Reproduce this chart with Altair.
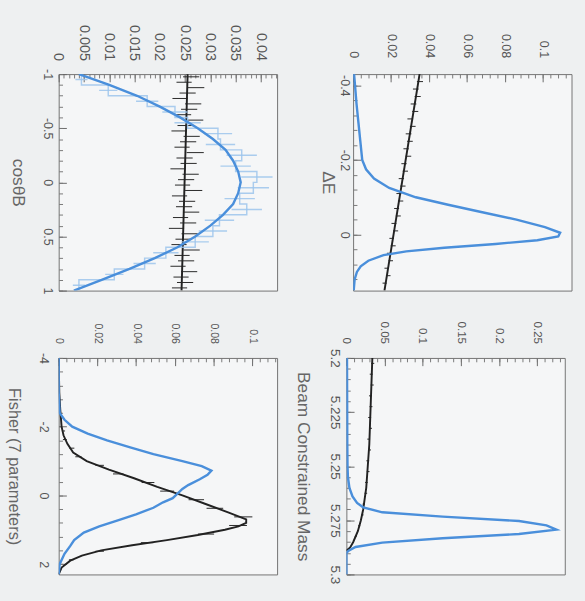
import altair as alt
import pandas as pd

FONT = "Liberation Sans"
BLUE = "#4a8fdb"
LBLUE = "#9cc4ec"
BLACK = "#222222"
TXT = "#555555"
W, H = 227, 225

# ---------------- Panel A : cos(theta_B) ----------------
A_fit_cos = [-1.0, -0.9, -0.8, -0.7, -0.6, -0.5, -0.4, -0.3, -0.2, -0.1, 0.0,
             0.1, 0.2, 0.3, 0.4, 0.5, 0.6, 0.7, 0.8, 0.9, 1.0]
A_sig_fit = [0.004, 0.010, 0.0155, 0.020, 0.024, 0.0275, 0.0305, 0.033, 0.0345, 0.0355, 0.036,
             0.0355, 0.0345, 0.0325, 0.030, 0.027, 0.0235, 0.019, 0.014, 0.0085, 0.003]
A_bkg_fit_cos = [-1.0, 1.0]
A_bkg_fit = [0.0255, 0.0243]
A_sig_edges = [-1.0, -0.9, -0.8, -0.7, -0.6, -0.5, -0.4, -0.3, -0.2, -0.1, 0.0,
               0.1, 0.2, 0.3, 0.4, 0.5, 0.6, 0.7, 0.8, 0.9, 1.0]
A_sig_hist = [0.0045, 0.0098, 0.0175, 0.0230, 0.0255, 0.0315, 0.0320, 0.0362, 0.0350, 0.0392,
              0.0385, 0.0358, 0.0372, 0.0318, 0.0305, 0.0270, 0.0212, 0.0170, 0.0110, 0.0040]
A_sig_err = [0.0012, 0.0018, 0.0022, 0.0025, 0.0026, 0.0028, 0.0029, 0.0030, 0.0030, 0.0031,
             0.0031, 0.0030, 0.0030, 0.0029, 0.0028, 0.0027, 0.0025, 0.0022, 0.0018, 0.0012]
A_bkg_bins = [-0.975, -0.925, -0.875, -0.825, -0.775, -0.725, -0.675, -0.625, -0.575, -0.525,
              -0.475, -0.425, -0.375, -0.325, -0.275, -0.225, -0.175, -0.125, -0.075, -0.025,
              0.025, 0.075, 0.125, 0.175, 0.225, 0.275, 0.325, 0.375, 0.425, 0.475,
              0.525, 0.575, 0.625, 0.675, 0.725, 0.775, 0.825, 0.875, 0.925, 0.975]
A_bkg_data = [0.0262, 0.0248, 0.0271, 0.0255, 0.0240, 0.0266, 0.0258, 0.0247, 0.0269, 0.0251,
              0.0238, 0.0263, 0.0256, 0.0244, 0.0270, 0.0249, 0.0257, 0.0236, 0.0261, 0.0252,
              0.0245, 0.0267, 0.0239, 0.0254, 0.0248, 0.0262, 0.0241, 0.0256, 0.0233, 0.0259,
              0.0247, 0.0238, 0.0263, 0.0244, 0.0252, 0.0236, 0.0258, 0.0242, 0.0250, 0.0239]
A_bkg_err = [0.0016, 0.0015, 0.0017, 0.0016, 0.0015, 0.0016, 0.0016, 0.0015, 0.0017, 0.0016,
             0.0015, 0.0016, 0.0016, 0.0015, 0.0017, 0.0016, 0.0016, 0.0015, 0.0016, 0.0016,
             0.0015, 0.0017, 0.0015, 0.0016, 0.0016, 0.0016, 0.0015, 0.0016, 0.0015, 0.0016,
             0.0016, 0.0015, 0.0016, 0.0015, 0.0016, 0.0015, 0.0016, 0.0015, 0.0016, 0.0015]

# ---------------- Panel B : Delta E ----------------
B_fit_de = [-0.43, -0.40, -0.35, -0.30, -0.25, -0.20, -0.175, -0.15, -0.125, -0.10, -0.08,
            -0.06, -0.04, -0.02, -0.005, 0.005, 0.015, 0.025, 0.035, 0.045, 0.055, 0.07,
            0.085, 0.10, 0.12, 0.15]
B_sig_fit = [0.0005, 0.001, 0.0018, 0.0028, 0.0038, 0.0048, 0.0068, 0.011, 0.019, 0.033, 0.050,
             0.068, 0.086, 0.101, 0.109, 0.108, 0.097, 0.075, 0.048, 0.028, 0.016, 0.008,
             0.004, 0.002, 0.0008, 0.0003]
B_bkg_fit_de = [-0.43, 0.15]
B_bkg_fit = [0.035, 0.0165]
B_bkg_bins = [-0.41, -0.39, -0.37, -0.35, -0.33, -0.31, -0.29, -0.27, -0.25, -0.23,
              -0.21, -0.19, -0.17, -0.15, -0.13, -0.11, -0.09, -0.07, -0.05, -0.03,
              -0.01, 0.01, 0.03, 0.05, 0.07, 0.09, 0.11, 0.13]
B_bkg_data = [0.0352, 0.0330, 0.0340, 0.0318, 0.0327, 0.0301, 0.0314, 0.0292, 0.0299, 0.0279,
              0.0291, 0.0268, 0.0275, 0.0254, 0.0262, 0.0241, 0.0250, 0.0229, 0.0238, 0.0215,
              0.0224, 0.0203, 0.0211, 0.0190, 0.0198, 0.0177, 0.0185, 0.0166]
B_bkg_err = [0.0016, 0.0015, 0.0016, 0.0015, 0.0016, 0.0015, 0.0015, 0.0015, 0.0015, 0.0014,
             0.0015, 0.0014, 0.0014, 0.0014, 0.0014, 0.0013, 0.0014, 0.0013, 0.0013, 0.0013,
             0.0013, 0.0012, 0.0013, 0.0012, 0.0012, 0.0012, 0.0012, 0.0011]

# ---------------- Panel C : Fisher ----------------
C_bkg_fit_f = [-4.0, -3.0, -2.5, -2.0, -1.75, -1.5, -1.25, -1.0, -0.75, -0.5, -0.25, 0.0, 0.25,
               0.5, 0.7, 0.8, 0.9, 1.0, 1.15, 1.3, 1.45, 1.6, 1.75, 1.9, 2.1, 2.3]
C_bkg_fit = [0.0, 0.0003, 0.0008, 0.0015, 0.0025, 0.0045, 0.0075, 0.0145, 0.026, 0.039, 0.051,
             0.064, 0.076, 0.088, 0.097, 0.097, 0.093, 0.086, 0.072, 0.056, 0.038, 0.022, 0.012,
             0.006, 0.0015, 0.0]
C_sig_fit_f = [-4.0, -3.0, -2.4, -2.2, -2.0, -1.8, -1.6, -1.4, -1.2, -1.0, -0.85, -0.72, -0.6,
               -0.47, -0.3, -0.19, 0.08, 0.2, 0.36, 0.55, 0.72, 0.9, 1.08, 1.3, 1.47, 1.7, 2.0, 2.3]
C_sig_fit = [0.0, 0.0, 0.0005, 0.003, 0.007, 0.015, 0.025, 0.037, 0.049, 0.064, 0.074, 0.079, 0.077,
             0.073, 0.067, 0.064, 0.059, 0.054, 0.049, 0.040, 0.031, 0.021, 0.013, 0.008, 0.006,
             0.003, 0.0005, 0.0]
C_bkg_bins = [-1.875, -1.625, -1.375, -1.125, -0.875, -0.625, -0.375, -0.125, 0.125, 0.375,
              0.625, 0.875, 1.125, 1.375, 1.625, 1.875]
C_bkg_data = [0.0025, 0.0032, 0.0068, 0.0102, 0.0212, 0.0308, 0.0462, 0.0561, 0.0712, 0.0808,
              0.0955, 0.0928, 0.0762, 0.0458, 0.0212, 0.0065]
C_bkg_err = [0.0008, 0.0010, 0.0013, 0.0016, 0.0022, 0.0027, 0.0033, 0.0036, 0.0040, 0.0043,
             0.0047, 0.0046, 0.0042, 0.0033, 0.0022, 0.0012]

# ---------------- Panel D : Beam constrained mass ----------------
D_bkg_fit_m = [5.200, 5.210, 5.220, 5.230, 5.240, 5.250, 5.260, 5.265, 5.270, 5.275, 5.280,
               5.285, 5.2875, 5.289]
D_bkg_fit = [0.034, 0.033, 0.032, 0.031, 0.030, 0.028, 0.026, 0.024, 0.022, 0.019, 0.015,
             0.009, 0.005, 0.0]
D_sig_fit_m = [5.200, 5.220, 5.240, 5.250, 5.255, 5.260, 5.264, 5.267, 5.269, 5.2713, 5.2733,
               5.2753, 5.2773, 5.2793, 5.2813, 5.2833, 5.2853, 5.2873, 5.289, 5.290, 5.300]
D_sig_fit = [0.0008, 0.001, 0.0012, 0.0015, 0.002, 0.004, 0.008, 0.014, 0.022, 0.047, 0.126,
             0.226, 0.262, 0.275, 0.226, 0.126, 0.047, 0.012, 0.003, 0.0, 0.0]
D_bkg_bins = [5.2025, 5.2075, 5.2125, 5.2175, 5.2225, 5.2275, 5.2325, 5.2375, 5.2425, 5.2475,
              5.2525, 5.2575, 5.2625, 5.2675, 5.2725, 5.2775, 5.2825, 5.2875]
D_bkg_data = [0.0345, 0.0325, 0.0338, 0.0315, 0.0322, 0.0305, 0.0316, 0.0292, 0.0303, 0.0280,
              0.0285, 0.0262, 0.0255, 0.0228, 0.0210, 0.0168, 0.0122, 0.0050]
D_bkg_err = [0.0020, 0.0019, 0.0020, 0.0019, 0.0019, 0.0019, 0.0019, 0.0018, 0.0019, 0.0018,
             0.0018, 0.0017, 0.0017, 0.0016, 0.0015, 0.0014, 0.0012, 0.0008]

LABEL_EXPR = "'' + datum.value"


def xs(dom):
    return alt.Scale(domain=dom, nice=False, zero=False)


def ys(dom):
    return alt.Scale(domain=dom, nice=False, zero=False, reverse=True)


def curve(v, p, dx, dy, color, width, opacity=1.0):
    df = pd.DataFrame({"v": v, "p": p, "o": list(range(len(v)))})
    return alt.Chart(df).mark_line(color=color, strokeWidth=width, clip=True,
                                   strokeOpacity=opacity).encode(
        x=alt.X("p:Q", scale=xs(dx), axis=None),
        y=alt.Y("v:Q", scale=ys(dy), axis=None),
        order=alt.Order("o:Q"),
    )


def stephist(edges, vals, dx, dy, color, width, opacity=1.0):
    vv, pp = [], []
    for i, val in enumerate(vals):
        vv += [edges[i], edges[i + 1]]
        pp += [val, val]
    return curve(vv, pp, dx, dy, color, width, opacity)


def errbars(c, p, e, dx, dy, color, width, opacity=1.0):
    df = pd.DataFrame({"v": c, "lo": [a - b for a, b in zip(p, e)],
                       "hi": [a + b for a, b in zip(p, e)]})
    return alt.Chart(df).mark_rule(color=color, strokeWidth=width, clip=True,
                                   strokeOpacity=opacity).encode(
        x=alt.X("lo:Q", scale=xs(dx), axis=None),
        x2="hi:Q",
        y=alt.Y("v:Q", scale=ys(dy), axis=None),
    )


def axes(dx, dy, xmaj, xmin, ymaj, ymin, title, cfg):
    df = pd.DataFrame({"v": [dy[0], dy[1]], "p": [dx[0], dx[1]]})
    base = alt.Chart(df).mark_point(opacity=0)
    main = base.encode(
        x=alt.X("p:Q", scale=xs(dx), axis=alt.Axis(
            orient="top", values=xmaj, labelExpr=LABEL_EXPR, labelAngle=90, labelAlign="right",
            labelBaseline="middle", labelFontSize=cfg["xfs"], labelPadding=cfg["xpad"],
            labelFont=FONT, labelColor=TXT, labelOverlap=False, labelFlush=False,
            ticks=False, domain=False, grid=False, title=None)),
        y=alt.Y("v:Q", scale=ys(dy), axis=alt.Axis(
            orient="left", values=ymaj, labelExpr=LABEL_EXPR, labelAngle=90, labelAlign="center",
            labelBaseline="top", labelFontSize=cfg["yfs"], labelPadding=cfg["ypad"],
            labelFont=FONT, labelColor=TXT, labelOverlap=False, labelFlush=False,
            ticks=False, domain=False, grid=False, title=title, titleAngle=90,
            titleBaseline="top", titleFont=FONT, titleFontSize=cfg["tfs"],
            titleFontWeight="normal", titleColor="#666666", titlePadding=cfg["tpad"])),
    )
    major = base.encode(
        x=alt.X("p:Q", scale=xs(dx), axis=alt.Axis(
            orient="bottom", offset=-H, values=xmaj, labels=False, domain=False, grid=False,
            ticks=True, tickSize=8, tickColor="#666666", tickWidth=1, title=None)),
        y=alt.Y("v:Q", scale=ys(dy), axis=alt.Axis(
            orient="right", offset=-W, values=ymaj, labels=False, domain=False, grid=False,
            ticks=True, tickSize=8, tickColor="#666666", tickWidth=1, title=None)),
    )
    minor = base.encode(
        x=alt.X("p:Q", scale=xs(dx), axis=alt.Axis(
            orient="bottom", offset=-H, values=xmin, labels=False, domain=False, grid=False,
            ticks=True, tickSize=4, tickColor="#777777", tickWidth=1, title=None)),
        y=alt.Y("v:Q", scale=ys(dy), axis=alt.Axis(
            orient="right", offset=-W, values=ymin, labels=False, domain=False, grid=False,
            ticks=True, tickSize=4, tickColor="#777777", tickWidth=1, title=None)),
    )
    return [main, major, minor]


def rng(a, b, s):
    out, k = [], 0
    while a + k * s <= b + 1e-9:
        out.append(round(a + k * s, 6))
        k += 1
    return out


def panel(layers):
    return alt.layer(*layers).resolve_axis(x="independent", y="independent").properties(
        width=W, height=H)


# Panel A
dxA, dyA = [0, 0.0432], [-1, 1]
A = panel(
    axes(dxA, dyA, rng(0, 0.04, 0.005), rng(0, 0.043, 0.001), rng(-1, 1, 0.5), rng(-1, 1, 0.1),
         "cosθB", dict(xfs=15, xpad=14, yfs=13, ypad=6, tfs=18, tpad=15))
    + [
        errbars(A_bkg_bins, A_bkg_data, A_bkg_err, dxA, dyA, BLACK, 1),
        curve(A_bkg_fit_cos, A_bkg_fit, dxA, dyA, BLACK, 2),
        stephist(A_sig_edges, A_sig_hist, dxA, dyA, LBLUE, 1.5, 0.85),
        errbars([(A_sig_edges[i] + A_sig_edges[i + 1]) / 2 for i in range(len(A_sig_hist))],
                A_sig_hist, A_sig_err, dxA, dyA, LBLUE, 1.5, 0.85),
        curve(A_fit_cos, A_sig_fit, dxA, dyA, BLUE, 2.5),
    ]
)

# Panel B
dxB, dyB = [0, 0.115], [-0.43, 0.15]
B = panel(
    axes(dxB, dyB, rng(0, 0.1, 0.02), rng(0, 0.112, 0.004), [-0.4, -0.2, 0], rng(-0.4, 0.12, 0.04),
         "ΔE", dict(xfs=13, xpad=17, yfs=13, ypad=3, tfs=18, tpad=2))
    + [
        errbars(B_bkg_bins, B_bkg_data, B_bkg_err, dxB, dyB, BLACK, 1),
        curve(B_bkg_fit_de, B_bkg_fit, dxB, dyB, BLACK, 2),
        curve(B_fit_de, B_sig_fit, dxB, dyB, BLUE, 2.5),
    ]
)

# Panel C
dxC, dyC = [0, 0.113], [-4, 2.3]
C = panel(
    axes(dxC, dyC, rng(0, 0.1, 0.02), rng(0, 0.112, 0.004), [-4, -2, 0, 2], rng(-4, 2.2, 0.4),
         "Fisher (7 parameters)", dict(xfs=11, xpad=15, yfs=13, ypad=10, tfs=17, tpad=16))
    + [
        errbars(C_bkg_bins, C_bkg_data, C_bkg_err, dxC, dyC, BLACK, 1),
        curve(C_bkg_fit_f, C_bkg_fit, dxC, dyC, BLACK, 2),
        curve(C_sig_fit_f, C_sig_fit, dxC, dyC, BLUE, 2.5),
    ]
)

# Panel D
dxD, dyD = [0, 0.286], [5.2, 5.3]
D = panel(
    axes(dxD, dyD, rng(0, 0.25, 0.05), rng(0, 0.28, 0.01), rng(5.2, 5.3, 0.025), rng(5.2, 5.3, 0.005),
         "Beam Constrained Mass", dict(xfs=12, xpad=15, yfs=14, ypad=5, tfs=18, tpad=18))
    + [
        errbars(D_bkg_bins, D_bkg_data, D_bkg_err, dxD, dyD, BLACK, 1),
        curve(D_bkg_fit_m, D_bkg_fit, dxD, dyD, BLACK, 2),
        curve(D_sig_fit_m, D_sig_fit, dxD, dyD, BLUE, 2.5),
    ]
)

top = alt.hconcat(A, B, spacing=38)
bottom = alt.hconcat(C, D, spacing=12)
chart = alt.vconcat(top, bottom, spacing=26).properties(
    padding={"left": 5, "top": 12, "right": 10, "bottom": 16},
    background="#eef0f1",
).configure_view(stroke="#707070", strokeWidth=1, fill="#f5f6f7")

chart.save("out.html", embed_options={"renderer": "svg", "actions": False})
